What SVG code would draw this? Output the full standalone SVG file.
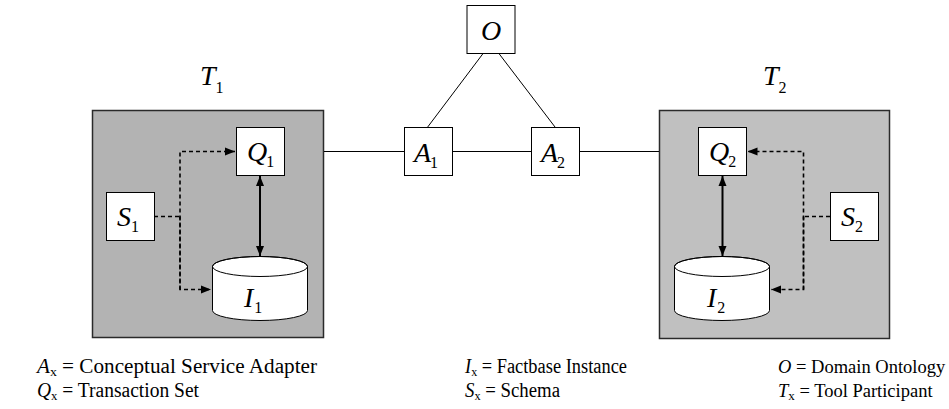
<svg xmlns="http://www.w3.org/2000/svg" width="949" height="409" viewBox="0 0 949 409">
  <defs>
    <marker id="head" viewBox="0 0 10 10" refX="10" refY="5" markerWidth="10" markerHeight="10" markerUnits="userSpaceOnUse" orient="auto-start-reverse">
      <path d="M0,1 L10,5 L0,9 Z" fill="#000"/>
    </marker>
    <style>
      .tool { stroke: #2a2a2a; stroke-width: 1.5; }
      .box { fill: #fff; stroke: #000; stroke-width: 1; }
      .link { fill: none; stroke: #000; stroke-width: 1; }
      .solid { fill: none; stroke: #000; stroke-width: 2; }
      .dash { fill: none; stroke: #000; stroke-width: 1.6; stroke-dasharray: 4 3; }
      text { font-family: 'Liberation Serif', 'Times New Roman', Times, serif; }
      .lbl { font-size: 28px; font-style: italic; fill: #000; }
      .sub { font-size: 16px; font-style: normal; }
      .legend { font-size: 20px; fill: #000; }
      .legend .narrow { font-size: 18.5px; }
      .v { font-style: italic; }
      .s { font-size: 13px; }
    </style>
  </defs>

  <rect width="949" height="409" fill="#fff"/>

  <!-- tool participant T1 -->
  <g id="T1">
    <rect class="tool" x="92.5" y="110.5" width="231" height="227" fill="#b3b3b3"/>
    <text class="lbl" x="200" y="85">T<tspan class="sub" dy="8">1</tspan></text>
  </g>

  <!-- tool participant T2 -->
  <g id="T2">
    <rect class="tool" x="659.5" y="110.5" width="230" height="228" fill="#c0c0c0"/>
    <text class="lbl" x="763" y="85">T<tspan class="sub" dy="8">2</tspan></text>
  </g>

  <!-- connectors -->
  <g id="connectors">
    <line class="link" x1="324" y1="151.5" x2="404.5" y2="151.5"/>
    <line class="link" x1="452.5" y1="151.5" x2="531.5" y2="151.5"/>
    <line class="link" x1="579.5" y1="151.5" x2="659" y2="151.5"/>
    <line class="link" x1="482.7" y1="54" x2="427.7" y2="127"/>
    <line class="link" x1="499.3" y1="54" x2="555" y2="127"/>

    <line class="solid" x1="260" y1="176" x2="260" y2="256" marker-start="url(#head)" marker-end="url(#head)"/>
    <line class="solid" x1="722.5" y1="176" x2="722.5" y2="256" marker-start="url(#head)" marker-end="url(#head)"/>

    <polyline class="dash" points="154,216.5 180,216.5"/>
    <polyline class="dash" points="180,289.5 180,151.5 235,151.5" marker-end="url(#head)"/>
    <polyline class="dash" points="180,216.5 180,289.5 211,289.5" marker-end="url(#head)"/>

    <polyline class="dash" points="830,216.5 803.5,216.5"/>
    <polyline class="dash" points="803.5,289.5 803.5,151.5 747.5,151.5" marker-end="url(#head)"/>
    <polyline class="dash" points="803.5,216.5 803.5,289.5 771,289.5" marker-end="url(#head)"/>
  </g>

  <g id="O">
    <rect class="box" x="467" y="5.5" width="48" height="48"/>
    <text class="lbl" x="491" y="40" text-anchor="middle">O</text>
  </g>

  <g id="A1">
    <rect class="box" x="404.5" y="127.5" width="48" height="48"/>
    <text class="lbl" x="414" y="161.5">A<tspan class="sub" dx="-1" dy="6">1</tspan></text>
  </g>

  <g id="A2">
    <rect class="box" x="531.5" y="127.5" width="48" height="48"/>
    <text class="lbl" x="541" y="161.5">A<tspan class="sub" dx="-1" dy="6">2</tspan></text>
  </g>

  <g id="Q1">
    <rect class="box" x="236.5" y="127.5" width="48" height="48"/>
    <text class="lbl" x="247" y="160.5">Q<tspan class="sub" dx="-1" dy="6">1</tspan></text>
  </g>

  <g id="Q2">
    <rect class="box" x="698.5" y="127.5" width="48" height="48"/>
    <text class="lbl" x="709" y="160.5">Q<tspan class="sub" dx="-1" dy="6">2</tspan></text>
  </g>

  <g id="S1">
    <rect class="box" x="106.5" y="192.5" width="48" height="48"/>
    <text class="lbl" x="117" y="226">S<tspan class="sub" dy="6">1</tspan></text>
  </g>

  <g id="S2">
    <rect class="box" x="830.5" y="192.5" width="48" height="48"/>
    <text class="lbl" x="841" y="226">S<tspan class="sub" dy="6">2</tspan></text>
  </g>

  <g id="I1">
    <path d="M212.5,266.5 L212.5,310.5 A47.5,10 0 0 0 307.5,310.5 L307.5,266.5 A47.5,10 0 0 0 212.5,266.5 Z" fill="#fff" stroke="#000" stroke-width="1"/>
    <ellipse cx="260" cy="266.5" rx="47.5" ry="10" fill="none" stroke="#000" stroke-width="1"/>
    <text class="lbl" x="244" y="306.5">I<tspan class="sub" dx="1" dy="6">1</tspan></text>
  </g>

  <g id="I2">
    <path d="M674.5,266.5 L674.5,310.5 A47.5,10 0 0 0 769.5,310.5 L769.5,266.5 A47.5,10 0 0 0 674.5,266.5 Z" fill="#fff" stroke="#000" stroke-width="1"/>
    <ellipse cx="722" cy="266.5" rx="47.5" ry="10" fill="none" stroke="#000" stroke-width="1"/>
    <text class="lbl" x="707" y="306.5">I<tspan class="sub" dx="1" dy="6">2</tspan></text>
  </g>

  <!-- legend -->
  <g id="legend" class="legend">
    <text x="37" y="373" textLength="280" lengthAdjust="spacingAndGlyphs"><tspan class="v">A</tspan><tspan class="s" dy="3">x</tspan><tspan dy="-3"> = Conceptual Service Adapter</tspan></text>
    <text x="37" y="397" textLength="162" lengthAdjust="spacingAndGlyphs"><tspan class="v">Q</tspan><tspan class="s" dy="3">x</tspan><tspan dy="-3"> = Transaction Set</tspan></text>
    <text x="465" y="373" textLength="162" lengthAdjust="spacingAndGlyphs"><tspan class="v">I</tspan><tspan class="s" dy="3">x</tspan><tspan dy="-3"> = Factbase Instance</tspan></text>
    <text x="465" y="397" textLength="95" lengthAdjust="spacingAndGlyphs"><tspan class="v">S</tspan><tspan class="s" dy="3">x</tspan><tspan dy="-3"> = Schema</tspan></text>
    <text class="narrow" x="778" y="373"><tspan class="v">O</tspan> = Domain Ontology</text>
    <text class="narrow" x="778" y="397"><tspan class="v">T</tspan><tspan class="s" dy="3">x</tspan><tspan dy="-3"> = Tool Participant</tspan></text>
  </g>
</svg>
